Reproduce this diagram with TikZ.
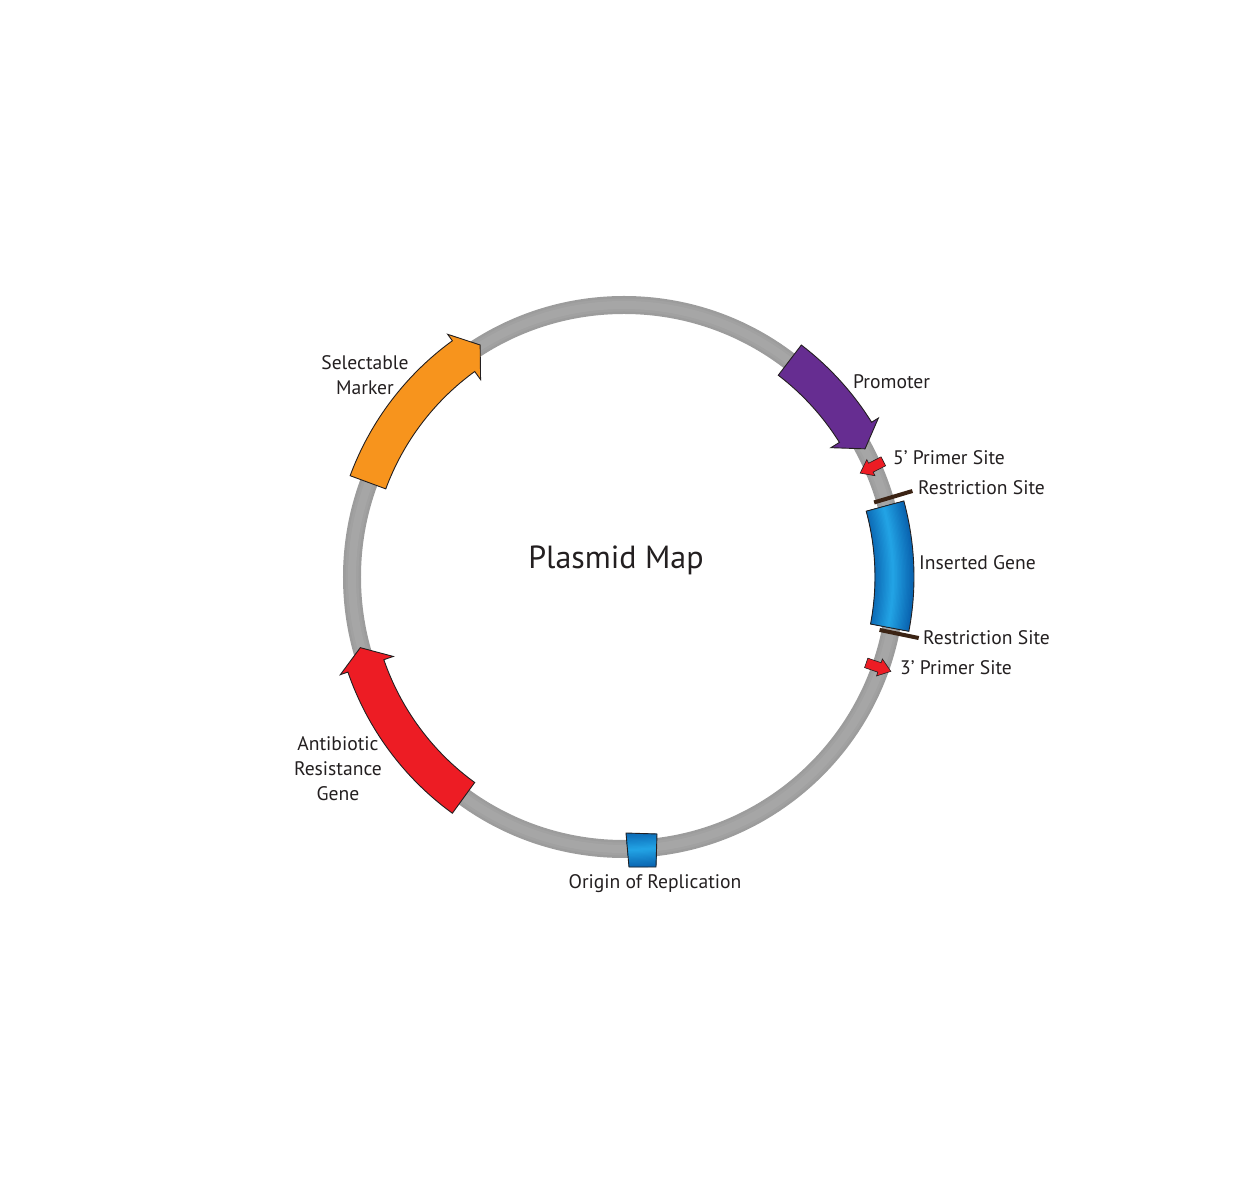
\documentclass[tikz,border=0pt]{standalone}
\usepackage{fontspec}
\setmainfont{PT Sans}
\definecolor{ringgray}{HTML}{9C9C9C}
\definecolor{ringlight}{HTML}{A6A6A6}
\definecolor{promcol}{HTML}{662D91}
\definecolor{selcol}{HTML}{F7941D}
\definecolor{abcol}{HTML}{ED1C24}
\definecolor{bluedark}{HTML}{0A66B2}
\definecolor{bluehi}{HTML}{22A2E4}
\definecolor{outl}{HTML}{231F20}
\definecolor{resbrown}{HTML}{3B2314}
\definecolor{txt}{HTML}{231F20}
\newcommand\genearrow[4]{% tail angle, head base angle, tip angle, colour
  \draw[genestyle, fill=#4] (#1:254) arc[start angle=#1, end angle=#2, radius=254]
    -- (#2:244) -- (#3:273) -- (#2:300) -- (#2:292)
    arc[start angle=#2, end angle=#1, radius=292] -- cycle;}
\newcommand\bluegrad[4]{% start angle, end angle, radius, max width
  \foreach \k in {0,...,14}{
    \pgfmathsetmacro\w{#4*(1-\k/15)}
    \pgfmathsetmacro\p{100*\k/14}
    \draw[bluehi!\p!bluedark, line width=\w pt] (#1:#3) arc[start angle=#1, end angle=#2, radius=#3];
  }}
\begin{document}
\begin{tikzpicture}[x=1pt,y=1pt,
  genestyle/.style={draw=outl, line width=0.9pt, line join=miter},
  lbl/.style={font=\fontsize{19.6}{25}\selectfont, text=txt, inner sep=0pt},
  restick/.style={draw=resbrown, line width=4pt},
  primer/.style={draw=outl, line width=0.6pt, fill=abcol}]
\useasboundingbox (-624,-613) rectangle (636,577);
% ring
\draw[ringgray, line width=18pt] (0,0) circle[radius=272];
\draw[ringgray!50!ringlight, line width=13pt] (0,0) circle[radius=272];
\draw[ringlight, line width=8pt] (0,0) circle[radius=272];
% promoter, selectable marker, antibiotic resistance
\genearrow{52.6}{32}{28}{promcol}
\genearrow{159.7}{126}{121.8}{selcol}
\genearrow{-126}{-161}{-165}{abcol}
% inserted gene
\begin{scope}
  \clip (15.2:251) arc[start angle=15.2, end angle=-10.8, radius=251]
    -- (-10.8:290) arc[start angle=-10.8, end angle=15.2, radius=290] -- cycle;
  \fill[bluedark] (-20,-60) rectangle (320,100);
  \bluegrad{20}{-15}{269}{40}
\end{scope}
\draw[genestyle] (15.2:251) arc[start angle=15.2, end angle=-10.8, radius=251]
    -- (-10.8:290) arc[start angle=-10.8, end angle=15.2, radius=290] -- cycle;
% origin of replication
\begin{scope}
  \clip (2,-256) -- (33,-257) -- (32,-290) -- (5,-290) -- cycle;
  \fill[bluedark] (-10,-300) rectangle (50,-240);
  \bluegrad{-80}{-95}{273}{36}
\end{scope}
\draw[genestyle] (2,-256) -- (33,-257) -- (32,-290) -- (5,-290) -- cycle;
% restriction sites
\draw[restick] (16.6:261) -- (16.6:301);
\draw[restick] (-11.7:261) -- (-11.7:301);
% primer sites
\draw[primer, shift={(23.9:271)}, rotate=207]
  (-13,-5) -- (1,-5) -- (1,-9) -- (13,0) -- (1,9) -- (1,5) -- (-13,5) -- cycle;
\draw[primer, shift={(-19.5:270)}, rotate=-19]
  (-13,-5) -- (1,-5) -- (1,-9) -- (13,0) -- (1,9) -- (1,5) -- (-13,5) -- cycle;
% labels
\node[lbl, anchor=west] (prom) at (229,195) {Promoter};
\node[lbl, anchor=west] (p5) at (269,119) {5’ Primer Site};
\node[lbl, anchor=west] (rs1) at (294,89) {Restriction Site};
\node[lbl, anchor=west] (ins) at (295,14) {Inserted Gene};
\node[lbl, anchor=west] (rs2) at (299,-61) {Restriction Site};
\node[lbl, anchor=west] (p3) at (276,-91) {3’ Primer Site};
\node[lbl] (ori) at (31,-307) {Origin of Replication};
\node[lbl, align=center] (abr) at (-286,-192) {Antibiotic\\Resistance\\Gene};
\node[lbl, align=center] (sel) at (-259,201.5) {Selectable\\Marker};
\node[font=\fontsize{32}{38}\selectfont, text=txt, inner sep=0pt] (title) at (-8,17) {Plasmid Map};
\end{tikzpicture}
\end{document}
